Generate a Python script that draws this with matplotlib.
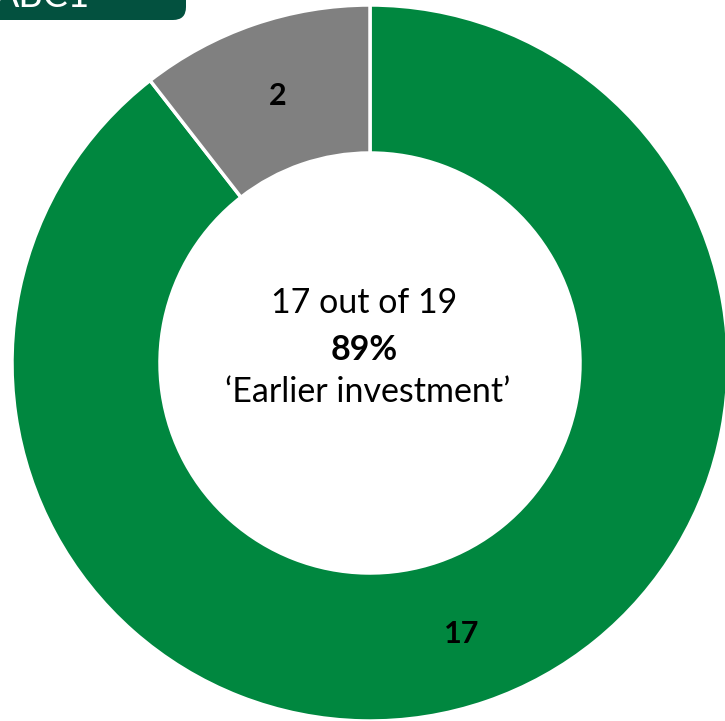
import matplotlib
matplotlib.use("Agg")
import matplotlib.pyplot as plt
from matplotlib.patches import FancyBboxPatch

plt.rcParams['font.family'] = ['Lato', 'DejaVu Sans']

# Data
categories = ["Earlier investment", "Other"]
counts = [17, 2]
colors = ["#00873F", "#808080"]
header_label = "ABC1"
total = sum(counts)
share = counts[0] / total

W, H = 725, 721
fig = plt.figure(figsize=(W / 100, H / 100), dpi=100)
ax = fig.add_axes([0, 0, 1, 1])

cx, cy = 370, H - 363
R = 358
ring = 148

ax.pie(counts, colors=colors, startangle=90, counterclock=False,
       center=(cx, cy), radius=R, frame=True,
       wedgeprops=dict(width=ring, edgecolor="white", linewidth=2.5))
ax.set_xlim(0, W)
ax.set_ylim(0, H)
ax.set_aspect("equal")
ax.axis("off")

# Value labels on the ring
ax.text(462, H - 634, str(counts[0]), ha="center", va="center",
        fontsize=22, fontweight="bold", color="black")
ax.text(278, H - 96, str(counts[1]), ha="center", va="center",
        fontsize=22, fontweight="bold", color="black")

# Centre summary
ax.text(cx - 6, H - 303, f"{counts[0]} out of {total}", ha="center", va="center",
        fontsize=24.5, color="black")
ax.text(cx - 6, H - 350, f"{share:.0%}", ha="center", va="center",
        fontsize=24.5, fontweight="bold", color="black")
ax.text(cx - 2, H - 392, f"\u2018{categories[0]}\u2019", ha="center", va="center",
        fontsize=24.5, color="black")

# Header tab
tab = FancyBboxPatch((-30, H - 20), 216, 60,
                     boxstyle="round,pad=0,rounding_size=13",
                     facecolor="#03513F", edgecolor="none", clip_on=True)
ax.add_patch(tab)
ax.text(-6, H - 7, header_label, ha="left", va="baseline",
        fontsize=27, color="white")

fig.savefig("out.png", dpi=100)
